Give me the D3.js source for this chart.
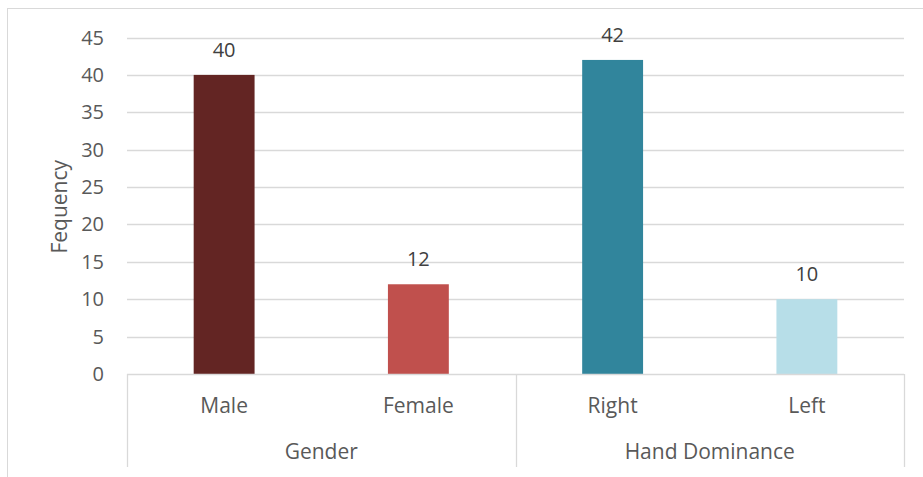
<!DOCTYPE html>
<html>
<head>
<meta charset="utf-8">
<script src="https://cdn.jsdelivr.net/npm/d3@7"></script>
<style>
  html, body { margin: 0; padding: 0; background: #fff; }
  svg { display: block; font-family: "Open Sans", "Noto Sans", sans-serif; }
</style>
</head>
<body>
<svg id="chart" width="923" height="477"></svg>
<script>
// Counts per category, grouped by attribute
const categories = ["Male", "Female", "Right", "Left"];
const groups = ["Gender", "Gender", "Hand Dominance", "Hand Dominance"];
const values = [40, 12, 42, 10];
const colors = ["#632523", "#c0504d", "#31859c", "#b7dee8"];
const yTicks = [0, 5, 10, 15, 20, 25, 30, 35, 40, 45];
const yTitle = "Fequency";

const svg = d3.select("#chart");
const W = 923, H = 477;
const plot = { left: 127, right: 904, top: 37.5, bottom: 374 };

// Chart frame (extends past the visible area on the right and bottom)
svg.append("rect")
  .attr("x", 7.5).attr("y", 8.5)
  .attr("width", W + 20).attr("height", H + 20)
  .attr("fill", "#fff").attr("stroke", "#d9d9d9").attr("stroke-width", 1);

const x = d3.scaleBand().domain(categories).range([plot.left, plot.right]).paddingInner(0).paddingOuter(0);
const y = d3.scaleLinear().domain([0, 45]).range([plot.bottom, plot.top]);
const barW = x.bandwidth() / 3.19;

// Horizontal gridlines
svg.append("g").selectAll("line").data(yTicks.filter(d => d > 0)).join("line")
  .attr("x1", plot.left).attr("x2", plot.right)
  .attr("y1", d => Math.round(y(d)) + 0.5).attr("y2", d => Math.round(y(d)) + 0.5)
  .attr("stroke", "#d9d9d9").attr("stroke-width", 1.3);

// Y tick labels
svg.append("g").selectAll("text").data(yTicks).join("text")
  .attr("x", 104).attr("y", d => y(d) + 7)
  .attr("text-anchor", "end")
  .attr("font-size", 20).attr("fill", "#595959")
  .text(d => d);

// Y axis title
svg.append("text")
  .attr("transform", `translate(67,${(plot.top + plot.bottom) / 2 + 1}) rotate(-90)`)
  .attr("text-anchor", "middle").attr("font-size", 21).attr("fill", "#595959")
  .text(yTitle);

// Bars
svg.append("g").selectAll("rect").data(categories).join("rect")
  .attr("x", (d) => x(d) + (x.bandwidth() - barW) / 2)
  .attr("y", (d, i) => y(values[i]))
  .attr("width", barW)
  .attr("height", (d, i) => y(0) - y(values[i]))
  .attr("fill", (d, i) => colors[i]);

// Value labels
svg.append("g").selectAll("text").data(categories).join("text")
  .attr("x", d => x(d) + x.bandwidth() / 2)
  .attr("y", (d, i) => y(values[i]) - 18)
  .attr("text-anchor", "middle")
  .attr("font-size", 20).attr("fill", "#404040")
  .text((d, i) => values[i]);

// Category axis: baseline, group dividers and labels
const axisG = svg.append("g");
axisG.append("line")
  .attr("x1", plot.left).attr("x2", plot.right)
  .attr("y1", plot.bottom + 0.5).attr("y2", plot.bottom + 0.5)
  .attr("stroke", "#d9d9d9").attr("stroke-width", 1.3);

const groupNames = Array.from(new Set(groups));
const groupSpans = groupNames.map(g => {
  const members = categories.filter((c, i) => groups[i] === g);
  return { name: g, x0: x(members[0]), x1: x(members[members.length - 1]) + x.bandwidth() };
});
const dividers = [plot.left].concat(groupSpans.map(s => s.x1));
axisG.selectAll("line.div").data(dividers).join("line")
  .attr("class", "div")
  .attr("x1", d => Math.round(d) + 0.5).attr("x2", d => Math.round(d) + 0.5)
  .attr("y1", plot.bottom).attr("y2", 467)
  .attr("stroke", "#d9d9d9").attr("stroke-width", 1.3);

axisG.selectAll("text.cat").data(categories).join("text")
  .attr("class", "cat")
  .attr("x", d => x(d) + x.bandwidth() / 2).attr("y", 413)
  .attr("text-anchor", "middle")
  .attr("font-size", 21).attr("fill", "#595959")
  .text(d => d);

axisG.selectAll("text.grp").data(groupSpans).join("text")
  .attr("class", "grp")
  .attr("x", d => (d.x0 + d.x1) / 2).attr("y", 459)
  .attr("text-anchor", "middle")
  .attr("font-size", 21).attr("fill", "#595959")
  .text(d => d.name);
</script>
</body>
</html>
